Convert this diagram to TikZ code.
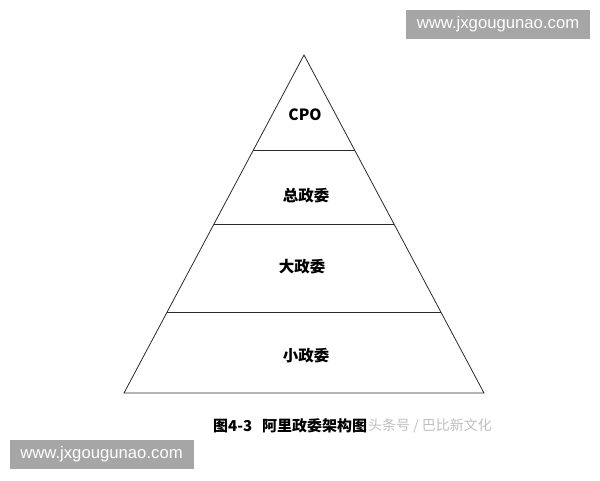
\documentclass[tikz,border=0pt]{standalone}
\usepackage{fontspec}
\setmainfont{Liberation Sans}
\newfontfamily\cjk{Noto Sans CJK SC}
\definecolor{wmgrey}{HTML}{A6A6A6}
\definecolor{linegrey}{HTML}{2A2A2A}

\begin{document}
\begin{tikzpicture}[x=1pt,y=-1pt]
    \tikzset{%
      level/.style={font=\cjk\bfseries\fontsize{15.5}{18}\selectfont, inner sep=0pt},
      edge/.style={draw=linegrey, line width=0.8pt},
      wmbox/.style={fill=wmgrey, minimum width=184pt, minimum height=29pt,
        inner sep=0pt, text=white, font=\fontsize{16.7}{19}\selectfont},
    }
    \useasboundingbox (0,0) rectangle (600,480);
    % pyramid corners
    \coordinate (T) at (304,55);
    \coordinate (BL) at (124,393);
    \coordinate (BR) at (484,393);
    % layer boundaries
    \coordinate (L1) at (253.4,150);
    \coordinate (R1) at (354.6,150);
    \coordinate (L2) at (214,224);
    \coordinate (R2) at (394,224);
    \coordinate (L3) at (167,312);
    \coordinate (R3) at (441,312);
    \draw [edge, line join=miter] (T) -- (BR) -- (BL) -- cycle;
    \draw [edge] (L1) -- (R1);
    \draw [edge] (L2) -- (R2);
    \draw [edge] (L3) -- (R3);
    % labels
    \node[level] (cpo) at (305,115) {CPO};
    \node[level] (zong) at (306,196) {总政委};
    \node[level] (da) at (302,267) {大政委};
    \node[level] (xiao) at (306,356) {小政委};
    % caption
    \node[anchor=west, inner sep=0pt, font=\cjk\bfseries\fontsize{15}{18}\selectfont]
      (cap) at (213,426) {图4-3\hspace{10pt}阿里政委架构图};
    \node[anchor=west, inner sep=0pt, text=black!25,
      font=\cjk\fontsize{14}{17}\selectfont] (tt) at (368,426) {头条号 / 巴比新文化};
    % watermarks
    \node[wmbox] (wm1) at (498,24.5) {www.jxgougunao.com};
    \node[wmbox] (wm2) at (101.5,454.5) {www.jxgougunao.com};
\end{tikzpicture}
\end{document}
